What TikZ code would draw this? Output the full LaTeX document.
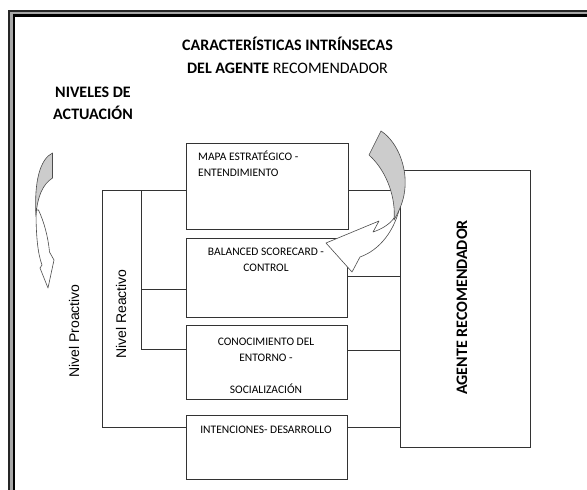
\documentclass[tikz,border=0pt]{standalone}
\usepackage{fontspec}
\setmainfont{Carlito}
\newfontfamily\arialfont{Liberation Sans}
\begin{document}
\begin{tikzpicture}[x=1pt,y=-1pt,
    box/.style={draw=black!80,line width=1pt,fill=white,inner sep=0pt},
    boxtext/.style={inner sep=0pt,font=\fontsize{11.5}{16}\selectfont,align=center,anchor=base},
    titletext/.style={inner sep=0pt,font=\fontsize{16}{23}\selectfont,align=center,anchor=base},
    nivel/.style={inner sep=0pt,font=\arialfont\fontsize{14}{16}\selectfont,rotate=90},
    link/.style={draw=black!80,line width=1pt},
    flecha/.style={draw=black!70,line width=0.6pt,line join=round}
]
\fill[white] (0,0) rectangle (587,490);
\useasboundingbox (0,0) rectangle (587,490);

\draw[black!85,line width=1.7pt] (9.2,490) -- (9.2,10.8) -- (587,10.8);
\draw[black!35,line width=2.3pt] (11.5,490) -- (11.5,13) -- (587,13);
\draw[black,line width=2.5pt] (13.8,490) -- (13.8,15.3) -- (587,15.3);

\node[titletext] (titulo) at (287.5,73) {\textbf{CARACTERÍSTICAS INTRÍNSECAS}\\\textbf{DEL AGENTE} RECOMENDADOR};
\node[titletext,font=\fontsize{16}{22}\selectfont\bfseries] (niveles) at (93,119) {NIVELES DE\\ACTUACIÓN};

\node[box,minimum width=162,minimum height=86] (mapa)     at (267,186)   {};
\node[box,minimum width=161,minimum height=79] (balanced) at (266.5,277.5) {};
\node[box,minimum width=161,minimum height=74] (conoc)    at (266.5,362.5) {};
\node[box,minimum width=161,minimum height=64] (intenc)   at (266.5,447) {};
\node[box,minimum width=130,minimum height=277] (agente)  at (465,308.5) {};

\node[boxtext,anchor=base west,align=left] (mapatxt) at (198,176) {MAPA ESTRATÉGICO -\\ENTENDIMIENTO};
\node[boxtext] (balancedtxt) at (266,271) {BALANCED SCORECARD -\\CONTROL};
\node[boxtext] (conoctxt)    at (266,393) {CONOCIMIENTO DEL\\ENTORNO -\\[16pt]SOCIALIZACIÓN};
\node[boxtext] (intenctxt)   at (266,433) {INTENCIONES- DESARROLLO};
\node[inner sep=0pt,rotate=90,font=\fontsize{16}{16}\selectfont\bfseries] (agentetxt) at (462,307.5) {AGENTE RECOMENDADOR};

\node[nivel] (proactivo) at (74,331) {Nivel Proactivo};
\node[nivel] (reactivo)  at (121,314) {Nivel Reactivo};

\coordinate (pa) at (102,190);
\coordinate (pb) at (102,427);
\coordinate (ra) at (141,190);
\coordinate (rm) at (141,289);
\coordinate (rb) at (141,349);
\coordinate (br) at ([yshift=1.5pt]balanced.east);
\coordinate (cr) at ([yshift=12.5pt]conoc.east);

\draw[link] (mapa.west |- pa) -- (pa) -- (pb) -- (intenc.west |- pb);
\draw[link] (ra) -- (rb) -- (conoc.west |- rb);
\draw[link] (rm) -- (balanced.west |- rm);

\draw[link] (mapa.east |- pa) -- (agente.west |- pa);
\draw[link] (br) -- (agente.west |- br);
\draw[link] (cr) -- (agente.west |- cr);
\draw[link] (intenc.east |- pb) -- (agente.west |- pb);

\filldraw[flecha,fill=white] (36,210) .. controls (36,238) and (38,254) .. (42,265) -- (40,268) -- (48,288) -- (54,260) -- (49.5,252) .. controls (48,236) and (44,222) .. (38.5,210) -- cycle;
\filldraw[flecha,fill=black!20] (52.5,153) .. controls (40,159) and (34,182) .. (36,215) .. controls (37.5,196) and (43,184) .. (52.5,178) -- cycle;

\filldraw[flecha,fill=white] (400,206) .. controls (395,230) and (380,250) .. (360,257) -- (352,272) -- (326,243) -- (379,221) -- (373,232) .. controls (382,229) and (390,224) .. (394,218) -- cycle;
\filldraw[flecha,fill=black!20] (381,131) .. controls (398,142) and (409,170) .. (404,195) .. controls (402,205) and (398,213) .. (394,220) .. controls (396,200) and (388,172) .. (369,155) -- cycle;
\end{tikzpicture}
\end{document}
